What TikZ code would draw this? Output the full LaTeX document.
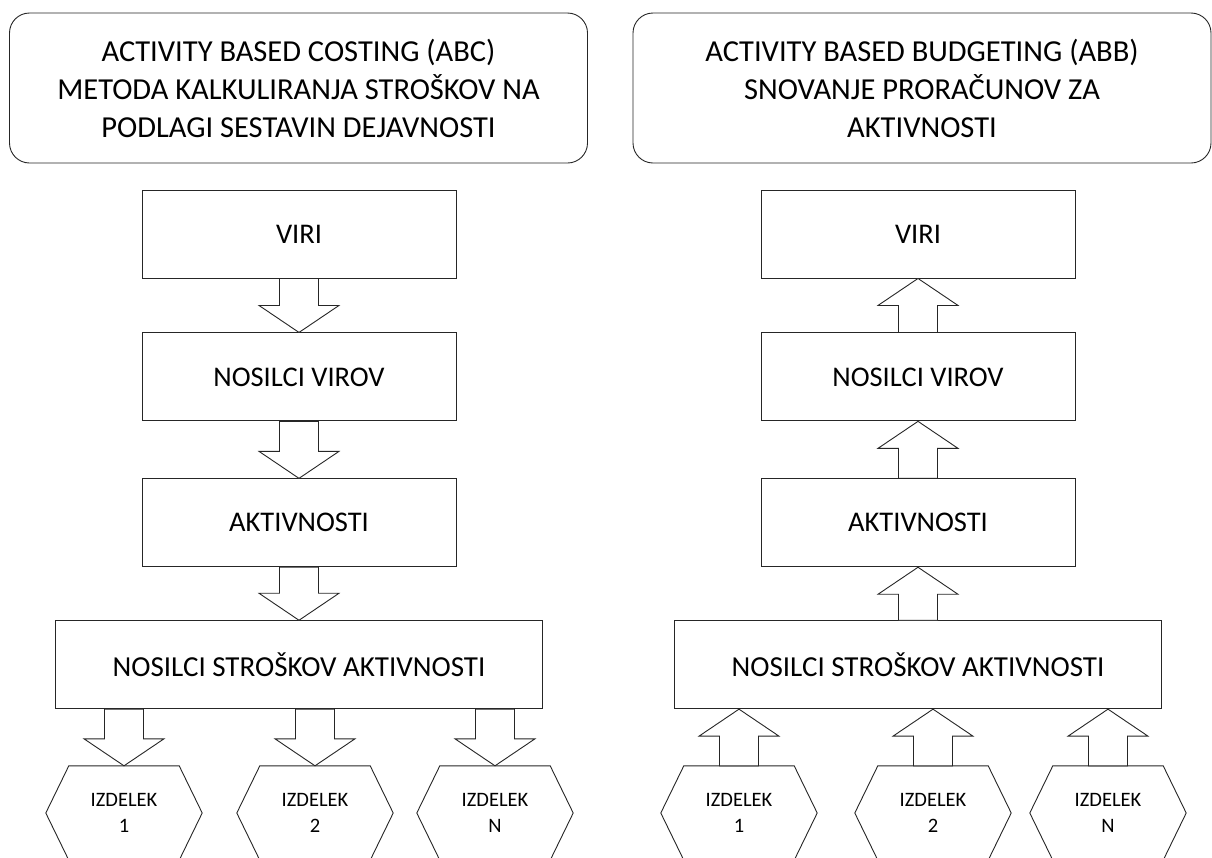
\documentclass[tikz,border=0pt]{standalone}
\usepackage{fontspec}
\setmainfont{Carlito}
\usetikzlibrary{calc,positioning}

% block arrows: shaft from the level of #1, tip at #2
\newcommand\blockdown[2]{%
  \draw[blockarrow] let \p1=(#1), \p2=(#2) in
    (\x2-19.5pt,\y1) -- (\x2-19.5pt,\y2+27pt) -- (\x2-40pt,\y2+27pt) -- (\x2,\y2)
    -- (\x2+40pt,\y2+27pt) -- (\x2+19.5pt,\y2+27pt) -- (\x2+19.5pt,\y1) -- cycle;}
\newcommand\blockup[2]{%
  \draw[blockarrow] let \p1=(#1), \p2=(#2) in
    (\x1-19.5pt,\y1) -- (\x1-19.5pt,\y2-27pt) -- (\x1-40pt,\y2-27pt) -- (\x1,\y2)
    -- (\x1+40pt,\y2-27pt) -- (\x1+19.5pt,\y2-27pt) -- (\x1+19.5pt,\y1) -- cycle;}
% hexagon round a product node
\newcommand\hexframe[1]{%
  \draw[outline] (#1.west) -- ($(#1.north west)+(23,0)$) -- ($(#1.north east)+(-23,0)$)
    -- (#1.east) -- ($(#1.south east)+(-23,0)$) -- ($(#1.south west)+(23,0)$) -- cycle;}

\begin{document}
\begin{tikzpicture}[x=1pt,y=-1pt,
  outline/.style={draw=black!85,line width=.9pt},
  title/.style={outline,rounded corners=20pt,minimum width=578pt,minimum height=150pt,
    align=center,inner sep=0pt,font=\fontsize{30.5}{38}\selectfont},
  stage/.style={outline,minimum width=314pt,minimum height=88pt,inner sep=0pt,
    font=\fontsize{28.5}{34}\selectfont},
  widestage/.style={stage,minimum width=487pt,font=\fontsize{29}{34}\selectfont},
  product/.style={minimum width=156pt,minimum height=94pt,inner sep=0pt,align=center,
    font=\fontsize{20.5}{26}\selectfont},
  blockarrow/.style={outline,fill=white,line join=miter}
]
\useasboundingbox (0,0) rectangle (1212,857);
\clip (0,0) rectangle (1212,857);

% ABC
\node[title] (abc) at (298.5,88) {ACTIVITY BASED COSTING (ABC)\\METODA KALKULIRANJA STROŠKOV NA\\PODLAGI SESTAVIN DEJAVNOSTI};
\node[stage] (viriL) at (299,234) {VIRI};
\node[stage,below=54pt of viriL] (viroviL) {NOSILCI VIROV};
\node[stage,below=57pt of viroviL] (aktL) {AKTIVNOSTI};
\node[widestage,below=53pt of aktL] (stroskiL) {NOSILCI STROŠKOV AKTIVNOSTI};
\node[product] (izL1) at (124,813) {IZDELEK\\1};
\node[product] (izL2) at (315,813) {IZDELEK\\2};
\node[product] (izLN) at (495,813) {IZDELEK\\N};
\hexframe{izL1}
\hexframe{izL2}
\hexframe{izLN}
\blockdown{viriL.south}{viroviL.north}
\blockdown{viroviL.south}{aktL.north}
\blockdown{aktL.south}{stroskiL.north}
\blockdown{stroskiL.south}{izL1.north}
\blockdown{stroskiL.south}{izL2.north}
\blockdown{stroskiL.south}{izLN.north}

% ABB
\node[title] (abb) at (922,88) {ACTIVITY BASED BUDGETING (ABB)\\SNOVANJE PRORAČUNOV ZA\\AKTIVNOSTI};
\node[stage] (viriR) at (918,234) {VIRI};
\node[stage,below=54pt of viriR] (viroviR) {NOSILCI VIROV};
\node[stage,below=57pt of viroviR] (aktR) {AKTIVNOSTI};
\node[widestage,below=53pt of aktR] (stroskiR) {NOSILCI STROŠKOV AKTIVNOSTI};
\node[product] (izR1) at (739,813) {IZDELEK\\1};
\node[product] (izR2) at (933,813) {IZDELEK\\2};
\node[product] (izRN) at (1108,813) {IZDELEK\\N};
\hexframe{izR1}
\hexframe{izR2}
\hexframe{izRN}
\blockup{viroviR.north}{viriR.south}
\blockup{aktR.north}{viroviR.south}
\blockup{stroskiR.north}{aktR.south}
\blockup{izR1.north}{stroskiR.south}
\blockup{izR2.north}{stroskiR.south}
\blockup{izRN.north}{stroskiR.south}
\end{tikzpicture}
\end{document}
